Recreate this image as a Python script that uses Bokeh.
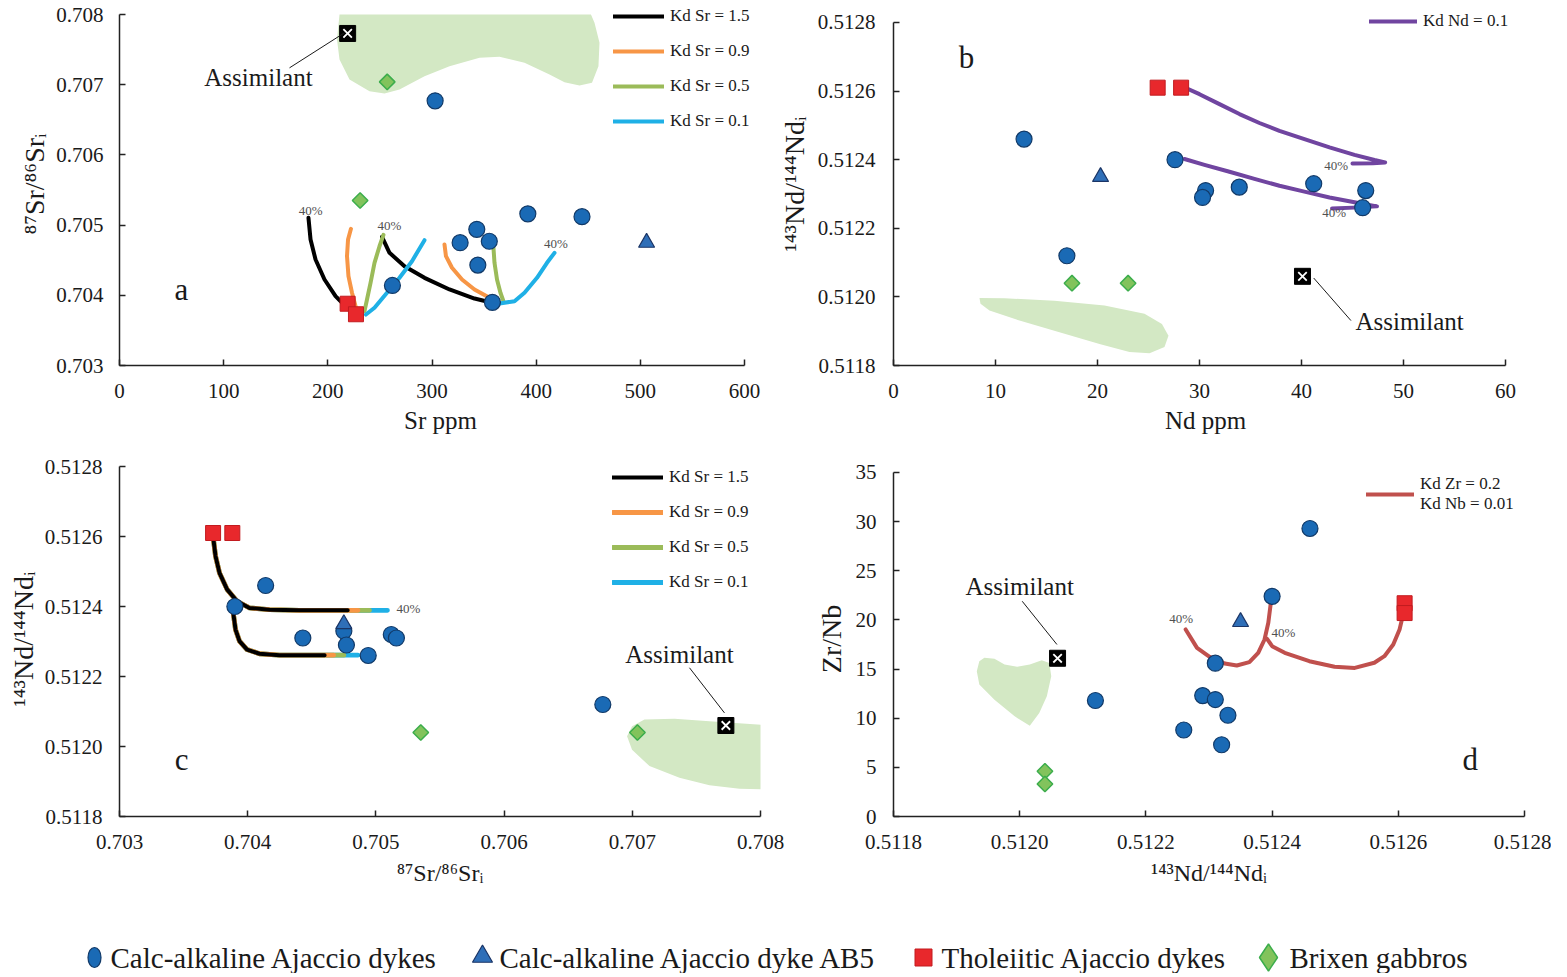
import math
from bokeh.plotting import figure
from bokeh.layouts import column, row
from bokeh.models import Range1d, FixedTicker, PrintfTickFormatter, Legend, LegendItem
from bokeh.core.properties import value
from bokeh.embed import file_html
from bokeh.resources import INLINE

FONT = "Liberation Serif"

# ---------------- sample data ----------------
# Calc-alkaline Ajaccio dykes
ca_sr_ppm = [262, 303, 358, 343, 344, 327, 355, 444, 392]
ca_sr_ratio = [0.70414, 0.70677, 0.70390, 0.70494, 0.70443, 0.70475, 0.70477, 0.70512, 0.70516]
ca_nd_ppm = [12.8, 17.0, 27.6, 46.0, 30.6, 41.2, 30.3, 33.9, 46.3]
ca_nd_ratio = [0.51246, 0.51212, 0.51240, 0.51226, 0.51231, 0.51233, 0.51229, 0.51232, 0.51231]
ca_zr_nb = [29.3, 11.8, 22.4, 8.8, 15.6, 10.3, 12.3, 7.3, 11.9]
# Calc-alkaline dyke AB5
ab5_sr_ppm = [506]
ab5_sr_ratio = [0.70475]
ab5_nd_ppm = [20.3]
ab5_nd_ratio = [0.51235]
ab5_zr_nb = [19.8]
# Tholeiitic Ajaccio dykes
th_sr_ppm = [219, 227]
th_sr_ratio = [0.70388, 0.70373]
th_nd_ppm = [28.2, 25.9]
th_nd_ratio = [0.51261, 0.51261]
th_zr_nb = [21.7, 20.7]
# Brixen gabbros
gb_sr_ppm = [257, 231]
gb_sr_ratio = [0.70704, 0.70535]
gb_nd_ppm = [23.0, 17.5]
gb_nd_ratio = [0.51204, 0.51204]
gb_zr_nb = [4.6, 3.3]
# Assimilant
as_sr_ppm = [219]
as_sr_ratio = [0.70773]
as_nd_ppm = [40.1]
as_nd_ratio = [0.51206]
as_zr_nb = [16.1]

# ---------------- model curves ----------------
kd_sr_labels = ["Kd Sr = 1.5", "Kd Sr = 0.9", "Kd Sr = 0.5", "Kd Sr = 0.1"]
# panel a, curves from the tholeiitic parent
a1_sr = [[224, 218.4, 207.4, 196.8, 188.2, 183.4, 181.4],
         [228, 226.6, 223.2, 219.8, 218.4, 219.4, 222.2],
         [235.2, 237.6, 241, 244.8, 249.6, 253.4],
         [236.6, 244.8, 256.8, 268.8, 280.8, 292.8]]
a1_ratio = [[0.70376, 0.703822, 0.703987, 0.704225, 0.704510, 0.704795, 0.705104],
            [0.70376, 0.703845, 0.704036, 0.704272, 0.704557, 0.704795, 0.704947],
            [0.703774, 0.703940, 0.704178, 0.704463, 0.704699, 0.704862],
            [0.703726, 0.703822, 0.704036, 0.704249, 0.704486, 0.704785]]
# panel a, curves from the calc-alkaline parent
a2_sr = [[357.6, 340.8, 316.8, 292.8, 273.6, 259.2, 252],
         [358, 355.2, 340.8, 328.8, 319.2, 313.4, 312],
         [368.6, 365.7, 362.4, 360, 359],
         [364.8, 379.2, 388.8, 400.8, 410.4, 417.6]]
a2_ratio = [[0.703893, 0.703954, 0.704083, 0.704249, 0.704415, 0.704605, 0.704833],
            [0.70390, 0.703964, 0.704083, 0.704225, 0.704392, 0.704557, 0.704724],
            [0.703916, 0.704036, 0.704225, 0.704463, 0.704677],
            [0.703883, 0.703916, 0.704036, 0.704249, 0.704463, 0.704605]]
a_pct_sr = [183.4, 259, 419]
a_pct_ratio = [0.70521, 0.70499, 0.70474]

# panel b
b1_nd = [28.28, 30.0, 31.96, 33.92, 35.88, 37.84, 40.29, 42.75, 45.2, 47.16, 48.2, 47.0, 45.0]
b1_ratio = [0.512614, 0.512591, 0.512562, 0.512533, 0.512507, 0.512484, 0.512460, 0.512436,
            0.512414, 0.512399, 0.512392, 0.512390, 0.512389]
b2_nd = [28.53, 30.49, 32.94, 35.39, 37.84, 40.29, 42.75, 45.2, 47.4, 45.7, 43.0]
b2_ratio = [0.512402, 0.512385, 0.512365, 0.512344, 0.512324, 0.512307, 0.512290, 0.512276,
            0.512264, 0.512261, 0.512258]
b_pct_nd = [43.4, 43.2]
b_pct_ratio = [0.512382, 0.512245]

# panel c (curves share the path, Kd sets the end point)
c1_sr = [0.70373, 0.703733, 0.703749, 0.703780, 0.703839, 0.703917, 0.704014, 0.704170, 0.704404]
c1_nd = [0.51261, 0.512591, 0.512544, 0.512496, 0.512449, 0.512415, 0.512396, 0.512391, 0.512389]
c1_end = [0.70478, 0.70486, 0.70495, 0.70509]
c2_sr = [0.70389, 0.703889, 0.703905, 0.703936, 0.703995, 0.704092, 0.704248]
c2_nd = [0.51240, 0.512377, 0.512334, 0.512301, 0.512277, 0.512265, 0.512261]
c2_end = [0.70460, 0.70467, 0.70475, 0.70486]
c_pct_sr = [0.705254]
c_pct_nd = [0.512393]

# panel d
d1_nd = [0.512607, 0.512602, 0.512592, 0.512578, 0.512562, 0.512531, 0.512499, 0.512459,
         0.512420, 0.512400, 0.512392]
d1_zrnb = [20.39, 19.03, 17.50, 16.31, 15.64, 15.12, 15.23, 15.80, 16.65, 17.33, 18.08]
d2_nd = [0.512398, 0.512394, 0.512388, 0.512378, 0.512364, 0.512344, 0.512325, 0.512301,
         0.512281, 0.512263]
d2_zrnb = [21.75, 19.71, 18.01, 16.65, 15.70, 15.36, 15.56, 16.24, 17.16, 19.03]
d_pct_nd = [0.512256, 0.512418]
d_pct_zrnb = [20.15, 18.75]

# ---------------- green fields ----------------
fa_x = [211.2, 208.8, 211.2, 220.8, 240.0, 254.4, 268.8, 292.8, 316.8, 345.6, 364.8, 388.8,
        412.8, 427.2, 441.6, 453.6, 459.8, 460.8, 456, 452.6]
fa_y = [0.70800, 0.707644, 0.707359, 0.707074, 0.706908, 0.706875, 0.706932, 0.707121,
        0.707264, 0.707383, 0.707397, 0.707312, 0.707145, 0.707036, 0.706989, 0.707027,
        0.707264, 0.707597, 0.707882, 0.70800]
fb_x = [8.43, 10.88, 15.78, 20.69, 24.61, 26.32, 26.96, 26.57, 25.1, 23.14, 20.2, 16.27, 12.35, 9.41, 8.53]
fb_y = [0.511997, 0.511996, 0.511989, 0.511975, 0.511951, 0.511921, 0.511887, 0.511854,
        0.511836, 0.511839, 0.511863, 0.511897, 0.511931, 0.511960, 0.511980]
fc_x = [0.706959, 0.706998, 0.707095, 0.707329, 0.707602, 0.70810, 0.70810, 0.707836,
        0.707602, 0.707368, 0.707134, 0.706998]
fc_y = [0.512029, 0.512058, 0.512077, 0.512079, 0.512072, 0.512060, 0.511877, 0.511879,
        0.511889, 0.511911, 0.511944, 0.511991]
fd_x = [0.511944, 0.511960, 0.511976, 0.511996, 0.512016, 0.512035, 0.512047, 0.512050,
        0.512043, 0.512031, 0.512016, 0.511992, 0.511960, 0.511936, 0.511932, 0.511936]
fd_y = [16.14, 16.04, 15.46, 15.23, 15.46, 15.90, 15.63, 14.27, 12.23, 10.54, 9.24, 10.19,
        11.89, 13.42, 14.78, 15.80]

# ---------------- annotations ----------------
assim_text = "Assimilant"
a_note = dict(tx=133.4, ty=0.707103, lx=[163.2, 216], ly=[0.70724, 0.70774], px=59.5, py=0.704083)
b_note = dict(tx=50.6, ty=0.511927, lx=[41.2, 44.85], ly=[0.512055, 0.511931], px=7.16, py=0.512699)
c_note = dict(tx=0.707368, ty=0.512263, lx=[0.707446, 0.707719], ly=[0.512225, 0.512096], px=0.703484, py=0.511963)
d_note = dict(tx=0.512, ty=23.4, lx=[0.512004, 0.512059], ly=[21.9, 17.5], px=0.512714, py=5.78)

legend_labels = ["Calc-alkaline Ajaccio dykes", "Calc-alkaline Ajaccio dyke AB5",
                 "Tholeiitic Ajaccio dykes", "Brixen gabbros"]

# ---------------- styles ----------------
KD_COLORS = ["#000000", "#f79646", "#9bbb59", "#1fb0e6"]
FIELD = "#d3e8c4"
CIRC_FILL, CIRC_LINE = "#1a6ab5", "#123a68"
TRI_FILL, TRI_LINE = "#2f6fb8", "#1b3566"
SQ_FILL, SQ_LINE = "#e8282c", "#c21b1f"
DM_FILL, DM_LINE = "#82c35c", "#3cad4c"
INK = "#1a1a1a"


def make_panel(width, height, borders, xr, yr, xb, yb, xticks, yticks, xfmt, yfmt, xlabel, ylabel,
               xls, yls, xts, yts):
    left, right, top, bottom = borders
    p = figure(width=width, height=height, x_range=Range1d(*xr), y_range=Range1d(*yr),
               output_backend="svg", toolbar_location=None,
               min_border_left=left, min_border_right=right,
               min_border_top=top, min_border_bottom=bottom)
    p.outline_line_color = None
    p.grid.visible = False
    for ax, ticks, bnds, fmt, lstand, tstand, lab, fs in (
            (p.xaxis[0], xticks, xb, xfmt, xls, xts, xlabel, "25px"),
            (p.yaxis[0], yticks, yb, yfmt, yls, yts, ylabel, "28px")):
        ax.ticker = FixedTicker(ticks=ticks)
        ax.bounds = bnds
        ax.formatter = PrintfTickFormatter(format=fmt)
        ax.minor_tick_line_color = None
        ax.major_tick_in = 6
        ax.major_tick_out = 0
        ax.axis_line_color = "#222222"
        ax.axis_line_width = 1.5
        ax.major_tick_line_color = "#222222"
        ax.major_tick_line_width = 1.5
        ax.major_label_text_font = FONT
        ax.major_label_text_font_size = "21px"
        ax.major_label_text_color = INK
        ax.major_label_standoff = lstand
        ax.axis_label = lab
        ax.axis_label_text_font = FONT
        ax.axis_label_text_font_style = "normal"
        ax.axis_label_text_font_size = fs
        ax.axis_label_text_color = INK
        ax.axis_label_standoff = tstand
    return p


def add_points(p, ca, ab, th, gb, asx):
    p.scatter(ca[0], ca[1], marker="circle", size=16, fill_color=CIRC_FILL, line_color=CIRC_LINE, line_width=1.2)
    p.scatter(ab[0], ab[1], marker="triangle", size=16, fill_color=TRI_FILL, line_color=TRI_LINE, line_width=1.2)
    p.scatter(th[0], th[1], marker="square", size=15, fill_color=SQ_FILL, line_color=SQ_LINE, line_width=1)
    p.scatter(gb[0], gb[1], marker="square", angle=math.pi / 4, size=11, fill_color=DM_FILL, line_color=DM_LINE, line_width=1.5)
    p.scatter(asx[0], asx[1], marker="square", size=16, fill_color="#000000", line_color="#000000")
    p.scatter(asx[0], asx[1], marker="x", size=12, line_color="#ffffff", line_width=1.8)


def add_notes(p, note, letter, pct_x, pct_y):
    p.line(note["lx"], note["ly"], line_color=INK, line_width=1)
    p.text([note["tx"]], [note["ty"]], text=[assim_text], text_font=value(FONT),
           text_font_size=value("25px"), text_align="center", text_baseline="middle", text_color=INK)
    p.text([note["px"]], [note["py"]], text=[letter], text_font=value(FONT),
           text_font_size=value("31px"), text_align="center", text_baseline="middle", text_color=INK)
    p.text(pct_x, pct_y, text=["40%"] * len(pct_x), text_font=value(FONT),
           text_font_size=value("13px"), text_align="center", text_baseline="middle", text_color="#505050")


def add_legend(p, items, loc, gw, gh=20, spacing=15):
    leg = Legend(items=items, location=loc, orientation="vertical", glyph_width=gw, glyph_height=gh,
                 spacing=spacing, padding=0, margin=0, label_standoff=6,
                 label_text_font=FONT, label_text_font_size="17px", label_text_color=INK,
                 label_height=gh, border_line_color=None, background_fill_alpha=0)
    p.add_layout(leg)


LW = 4

# ---------------- panel a ----------------
pa = make_panel(775, 443, (119, 14, 2, 78), (0, 616.32), (0.703, 0.708171), (0, 600), (0.703, 0.708),
                [0, 100, 200, 300, 400, 500, 600],
                [0.703, 0.704, 0.705, 0.706, 0.707, 0.708], "%d", "%.3f",
                "Sr ppm", "\u2078\u2077Sr/\u2078\u2076Sr\u1d62", 18, 16, 6, 3)
pa.patch(fa_x, fa_y, fill_color=FIELD, line_color=None)
a_leg_r = []
for i in range(4):
    r = pa.line(a1_sr[i], a1_ratio[i], line_color=KD_COLORS[i], line_width=LW, line_cap="round", line_join="round")
    pa.line(a2_sr[i], a2_ratio[i], line_color=KD_COLORS[i], line_width=LW, line_cap="round", line_join="round")
    a_leg_r.append(r)
add_points(pa, (ca_sr_ppm, ca_sr_ratio), (ab5_sr_ppm, ab5_sr_ratio), (th_sr_ppm, th_sr_ratio),
           (gb_sr_ppm, gb_sr_ratio), (as_sr_ppm, as_sr_ratio))
add_notes(pa, a_note, "a", a_pct_sr, a_pct_ratio)
add_legend(pa, [LegendItem(label=kd_sr_labels[i], renderers=[a_leg_r[i]]) for i in range(4)], (494, 234), 51)

# ---------------- panel b ----------------
pb = make_panel(776, 443, (118, 34, 2, 78), (0, 61.18), (0.5118, 0.5128583), (0, 60), (0.5118, 0.5128),
                [0, 10, 20, 30, 40, 50, 60],
                [0.5118, 0.512, 0.5122, 0.5124, 0.5126, 0.5128], "%d", "%.4f",
                "Nd ppm", "\u00b9\u2074\u00b3Nd/\u00b9\u2074\u2074Nd\u1d62", 18, 18, 6, 5)
pb.patch(fb_x, fb_y, fill_color=FIELD, line_color=None)
rb = pb.line(b1_nd, b1_ratio, line_color="#7045a0", line_width=LW, line_cap="round", line_join="round")
pb.line(b2_nd, b2_ratio, line_color="#7045a0", line_width=LW, line_cap="round", line_join="round")
add_points(pb, (ca_nd_ppm, ca_nd_ratio), (ab5_nd_ppm, ab5_nd_ratio), (th_nd_ppm, th_nd_ratio),
           (gb_nd_ppm, gb_nd_ratio), (as_nd_ppm, as_nd_ratio))
add_notes(pb, b_note, "b", b_pct_nd, b_pct_ratio)
add_legend(pb, [LegendItem(label="Kd Nd = 0.1", renderers=[rb])], (476, 334), 48)

# ---------------- panel c ----------------
pc = make_panel(789, 453, (119, 29, 18, 80), (0.703, 0.708), (0.5118, 0.5128143), (0.703, 0.708), (0.5118, 0.5128),
                [0.703, 0.704, 0.705, 0.706, 0.707, 0.708],
                [0.5118, 0.512, 0.5122, 0.5124, 0.5126, 0.5128], "%.3f", "%.4f",
                "\u2078\u2077Sr/\u2078\u2076Sr\u1d62", "\u00b9\u2074\u00b3Nd/\u00b9\u2074\u2074Nd\u1d62", 18, 17, 8, 3)
pc.xaxis[0].axis_label_text_font_size = "24px"
pc.patch(fc_x, fc_y, fill_color=FIELD, line_color=None)
c_leg_r = {}
for i in [3, 2, 1, 0]:
    w = LW + (0.8 if i > 0 else 0)
    r = pc.line(c1_sr + [c1_end[i]], c1_nd + [c1_nd[-1]], line_color=KD_COLORS[i], line_width=w, line_cap="round", line_join="round")
    pc.line(c2_sr + [c2_end[i]], c2_nd + [c2_nd[-1]], line_color=KD_COLORS[i], line_width=w, line_cap="round", line_join="round")
    c_leg_r[i] = r
add_points(pc, (ca_sr_ratio, ca_nd_ratio), (ab5_sr_ratio, ab5_nd_ratio), (th_sr_ratio, th_nd_ratio),
           (gb_sr_ratio, gb_nd_ratio), (as_sr_ratio, as_nd_ratio))
add_notes(pc, c_note, "c", c_pct_sr, c_pct_nd)
add_legend(pc, [LegendItem(label=kd_sr_labels[i], renderers=[c_leg_r[i]]) for i in range(4)], (493, 224), 51)

# ---------------- panel d ----------------
pd_ = make_panel(762, 453, (104, 27, 18, 80), (0.5118, 0.5128), (0, 36.119), (0.5118, 0.5128), (0, 35),
                 [0.5118, 0.512, 0.5122, 0.5124, 0.5126, 0.5128],
                 [0, 5, 10, 15, 20, 25, 30, 35], "%.4f", "%d",
                 "\u00b9\u2074\u00b3Nd/\u00b9\u2074\u2074Nd\u1d62", "Zr/Nb", 18, 17, 8, 6)
pd_.xaxis[0].axis_label_text_font_size = "24px"
pd_.patch(fd_x, fd_y, fill_color=FIELD, line_color=None)
rd = pd_.line(d1_nd, d1_zrnb, line_color="#c0504d", line_width=LW, line_cap="round", line_join="round")
pd_.line(d2_nd, d2_zrnb, line_color="#c0504d", line_width=LW, line_cap="round", line_join="round")
add_points(pd_, (ca_nd_ratio, ca_zr_nb), (ab5_nd_ratio, ab5_zr_nb), (th_nd_ratio, th_zr_nb),
           (gb_nd_ratio, gb_zr_nb), (as_nd_ratio, as_zr_nb))
add_notes(pd_, d_note, "d", d_pct_nd, d_pct_zrnb)
add_legend(pd_, [LegendItem(label="Kd Zr = 0.2\nKd Nb = 0.01", renderers=[rd])], (473, 302), 48, gh=40)

# ---------------- bottom legend ----------------
LEG_MARK_X = [94, 482, 923, 1268]
LEG_TEXT_X = [110, 499, 941, 1289]
LEG_Y = 16
pl = figure(width=1551, height=77, x_range=Range1d(0, 1551), y_range=Range1d(0, 77),
            output_backend="svg", toolbar_location=None, min_border=0,
            x_axis_type=None, y_axis_type=None)
pl.outline_line_color = None
pl.grid.visible = False
pl.ellipse(x=[LEG_MARK_X[0]], y=[LEG_Y], width=13, height=20, width_units="screen", height_units="screen",
           fill_color=CIRC_FILL, line_color=CIRC_LINE, line_width=1.2)
pl.scatter([LEG_MARK_X[1]], [LEG_Y + 1], marker="triangle", size=20, fill_color=TRI_FILL, line_color=TRI_LINE, line_width=1.2)
pl.scatter([LEG_MARK_X[2]], [LEG_Y], marker="square", size=17, fill_color=SQ_FILL, line_color=SQ_LINE)
pl.scatter([LEG_MARK_X[3]], [LEG_Y], marker="diamond", size=27, fill_color=DM_FILL, line_color=DM_LINE, line_width=1.5)
pl.text(LEG_TEXT_X, [LEG_Y] * 4, text=legend_labels, text_font=value(FONT), text_font_size=value("29px"),
        text_baseline="middle", text_align="left", text_color=INK)

layout = column(row(pa, pb), row(pc, pd_), pl)
open("out.html", "w").write(file_html(layout, INLINE))
